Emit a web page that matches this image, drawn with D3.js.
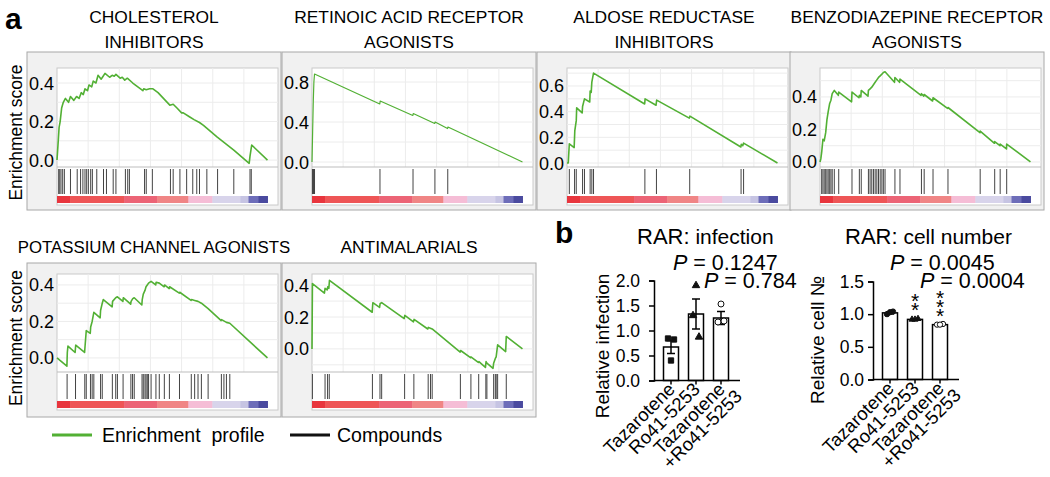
<!DOCTYPE html>
<html>
<head>
<meta charset="utf-8">
<script src="https://cdn.jsdelivr.net/npm/d3@7"></script>
<style>
  body { margin: 0; background: #fff; }
  svg { display: block; font-family: "Liberation Sans", Arial, sans-serif; }
</style>
</head>
<body>
<svg id="fig" width="1050" height="477"></svg>
<script>
// ---- panel a: GSEA running enrichment scores, [rank %, ES]
const gseaTitles = [
  ['CHOLESTEROL', 'INHIBITORS'],
  ['RETINOIC ACID RECEPTOR', 'AGONISTS'],
  ['ALDOSE REDUCTASE', 'INHIBITORS'],
  ['BENZODIAZEPINE RECEPTOR', 'AGONISTS'],
  ['POTASSIUM CHANNEL AGONISTS'],
  ['ANTIMALARIALS']
]
const esTicks = [[0, 0.2, 0.4], [0, 0.4, 0.8], [0, 0.2, 0.4, 0.6], [0, 0.2, 0.4], [0, 0.2, 0.4], [0, 0.2, 0.4]]
const esDomains = [[-0.036, 0.478], [-0.05, 0.94], [-0.031, 0.74], [-0.031, 0.578], [-0.077, 0.46], [-0.145, 0.47]]

const esCholesterol = [[0,0],[0.6,0.1],[1.0,0.17],[1.5,0.2],[2.2,0.27],[3,0.3],[4,0.32],[5.5,0.30],[6.4,0.33],[8,0.31],[9.3,0.33],[10.5,0.32],[11.5,0.35],[12.5,0.34],[13.3,0.37],[14.5,0.36],[15.2,0.39],[16.5,0.38],[17.2,0.41],[18.5,0.40],[19.5,0.44],[21,0.42],[21.6,0.43],[22.8,0.45],[25,0.43],[26.2,0.44],[27.2,0.435],[28,0.445],[30,0.425],[31,0.43],[32.2,0.415],[33.4,0.425],[36,0.40],[40.8,0.36],[41.2,0.37],[42.4,0.365],[44,0.37],[45.6,0.37],[48,0.35],[53.6,0.285],[55.2,0.29],[57,0.27],[59.2,0.245],[60,0.245],[62.9,0.225],[65.1,0.21],[67.7,0.195],[69.6,0.18],[76,0.12],[84,0.052],[91.3,-0.017],[91.7,0.02],[92.5,0.078],[100,0]]
const hitsCholesterol = [0.8,1.3,1.9,2.7,3.5,6.4,9.6,11.2,12.3,13.3,14.1,14.9,16,16.8,18.9,22.1,23.5,26.7,28,32.5,33.6,34.4,41.6,42.4,45.3,53.9,55.2,58.4,61.6,64.5,66.4,67.7,71.2,76.3,84,91.7,92.3]

const esRetinoic = [[0,0],[0.3,0.3],[0.6,0.6],[0.9,0.8],[1.2,0.88],[32.2,0.58],[32.4,0.61],[47.9,0.465],[48.1,0.485],[58.3,0.385],[58.5,0.4],[64.4,0.335],[64.6,0.35],[100,0]]
const hitsRetinoic = [0.2,0.4,0.6,0.8,1.0,1.2,32.3,48,58.4,64.5]

const esAldose = [[0,0],[0.6,0],[1.1,0.15],[3.4,0.12],[3.7,0.25],[4.4,0.33],[4.6,0.43],[7.2,0.39],[7.4,0.44],[8.3,0.5],[10.8,0.475],[11,0.56],[11.5,0.55],[11.8,0.63],[12.6,0.70],[36.9,0.46],[37.1,0.5],[42.3,0.45],[42.6,0.49],[58.1,0.35],[58.4,0.365],[82.6,0.125],[82.8,0.145],[83.5,0.135],[83.9,0.155],[100,0]]
const hitsAldose = [1.1,3.6,4.4,7.4,8.3,11,11.8,12.6,37,42.5,58.3,82.7,83.9]

const esBenzo = [[0,0],[0.4,0.02],[0.8,0.06],[1.4,0.14],[2,0.13],[2.7,0.18],[3.3,0.26],[3.9,0.31],[4.6,0.36],[5.2,0.38],[5.8,0.42],[6.8,0.44],[8.7,0.41],[8.9,0.43],[15,0.37],[15.2,0.43],[18.5,0.395],[18.7,0.41],[19.4,0.40],[19.6,0.44],[22.8,0.405],[23,0.44],[23.8,0.45],[24.6,0.46],[25.4,0.475],[26.2,0.49],[27,0.505],[27.8,0.52],[28.6,0.53],[29.4,0.54],[30.1,0.55],[30.9,0.555],[35.4,0.49],[35.6,0.52],[37.8,0.49],[38,0.51],[48,0.41],[48.2,0.42],[49.3,0.405],[49.5,0.415],[53.5,0.375],[53.7,0.395],[60.6,0.33],[60.8,0.335],[76,0.18],[76.1,0.19],[82.9,0.115],[83,0.125],[85.5,0.1],[85.6,0.11],[88.6,0.08],[88.7,0.11],[100,0]]
const hitsBenzo = [0.8,1.4,2,2.7,3.3,3.9,4.6,5.2,5.8,6.8,8.9,15.2,18.7,19.6,23,23.8,24.6,25.4,26.2,27,27.8,28.6,29.4,30.1,30.9,35.6,38,48.2,49.5,53.7,60.8,76.1,83,85.6,88.7]

const esPotassium = [[0,0],[4.7,-0.045],[4.9,0.03],[5.2,0.065],[8.6,0.03],[8.9,0.07],[13.1,0.03],[13.3,0.06],[13.9,0.15],[15.8,0.135],[16,0.17],[16.7,0.2],[17.5,0.25],[20.5,0.22],[20.7,0.26],[21.5,0.3],[22,0.32],[26.2,0.28],[26.4,0.31],[27.9,0.33],[28.7,0.335],[31.3,0.31],[31.5,0.33],[35,0.295],[35.2,0.31],[36,0.325],[36.7,0.33],[40.3,0.29],[40.5,0.32],[41,0.35],[41.8,0.37],[42.3,0.39],[42.9,0.40],[43.5,0.41],[44.7,0.42],[46.9,0.40],[47.1,0.415],[48.6,0.41],[50.9,0.39],[51.1,0.40],[53.3,0.38],[53.5,0.39],[58.1,0.355],[58.3,0.36],[63.7,0.315],[63.9,0.32],[65.4,0.315],[67,0.31],[68.6,0.30],[71.8,0.27],[78,0.205],[78.2,0.21],[80.5,0.195],[82.1,0.19],[100,0]]
const hitsPotassium = [4.8,8.8,13.2,13.9,15.9,16.7,17.5,20.7,21.5,26.3,27.9,28.7,31.4,35.1,35.9,36.7,40.4,41,41.8,42.3,42.9,43.5,44.7,47,48.6,51,53.4,58.2,63.8,65.4,67,68.6,71.8,78.1,79.3,80.5,82.1]

const esAntimalarial = [[0,0],[0.2,0.41],[5.9,0.35],[6.2,0.38],[7.2,0.37],[7.5,0.39],[8,0.38],[8.3,0.43],[28.6,0.23],[28.9,0.29],[32.1,0.26],[32.4,0.285],[33.1,0.29],[43.8,0.19],[44.1,0.21],[48.2,0.17],[48.5,0.185],[55,0.125],[55.3,0.135],[56.2,0.13],[57.1,0.125],[70.4,-0.02],[70.6,-0.01],[75.3,-0.055],[75.5,-0.05],[79,-0.085],[79.3,-0.08],[82.4,-0.116],[82.7,-0.08],[83.1,-0.09],[86,-0.122],[86.3,-0.09],[87.1,-0.06],[87.5,-0.05],[88.2,0.025],[92,-0.017],[92.3,0.078],[100,0]]
const hitsAntimalarial = [0.2,6.2,7.4,8.2,28.7,32.3,33.1,44,48.4,55.2,56.3,57.1,70.5,75.5,79.2,82.6,83.1,86.3,87.1,87.5,88.2,92.3]

// ranked-list colour strip (same list for every panel)
const rankStops = [0, 6.2, 31.9, 47.6, 62.4, 73.8, 87.1, 91, 95.7, 100]
const rankColors = ['#e8353d', '#ee5556', '#ec6476', '#f08585', '#f5bdd6', '#d8d4eb', '#c6c4e3', '#6d6db9', '#4a4a9f']

// ---- panel b: RAR bar charts
const barGroups = ['Tazarotene', 'Ro41-5253', 'Tazarotene|+Ro41-5253']
const infectionMean = [0.67, 1.33, 1.25]
const infectionSem = [0.13, 0.30, 0.13]
const infectionPoints = [[0.84, 0.82, 0.40], [1.30, 0.87, 1.90], [1.17, 1.19, 1.53]]
const infectionP = ['0.1247', '0.784']
const cellMean = [1.02, 0.92, 0.84]
const cellSem = [0.015, 0.005, 0.005]
const cellPoints = [[1.00, 1.04, 1.03], [0.92, 0.93, 0.92], [0.84, 0.85, 0.84]]
const cellP = ['0.0045', '0.0004']
const cellStars = [0, 2, 3]

const green = '#52b034'
const svg = d3.select('#fig')

// ---------- GSEA panels ----------
const esCurves = [esCholesterol, esRetinoic, esAldose, esBenzo, esPotassium, esAntimalarial]
const hitLists = [hitsCholesterol, hitsRetinoic, hitsAldose, hitsBenzo, hitsPotassium, hitsAntimalarial]
const boxW = 254
const boxXs = [27, 282, 537, 790]
const rows = [
  { y: 52, h: 158, plotTop: 16, esH: 99, title: 23 },
  { y: 263, h: 154, plotTop: 11, esH: 98, title: 253 }
]

function drawGsea(i) {
  const row = rows[i < 4 ? 0 : 1]
  const bx = boxXs[i < 4 ? i : i - 4]
  const by = row.y
  const g = svg.append('g')

  gseaTitles[i].forEach((t, k) => {
    g.append('text')
      .attr('x', bx + boxW / 2)
      .attr('y', row.title + k * 25)
      .attr('text-anchor', 'middle')
      .attr('font-size', i === 4 ? 16.8 : 17.4)
      .text(t)
  })

  g.append('rect')
    .attr('x', bx).attr('y', by)
    .attr('width', boxW).attr('height', row.h)
    .attr('fill', '#f1f1f1').attr('stroke', '#a8a8a8')

  const left = bx + 30
  const right = bx + 251
  const top = by + row.plotTop
  const esBottom = top + row.esH
  const stripTop = esBottom + 29
  const plotBottom = esBottom + 38

  const x = d3.scaleLinear().domain([0, 105]).range([left, right])
  const y = d3.scaleLinear().domain(esDomains[i]).range([esBottom, top])

  g.append('rect')
    .attr('x', left).attr('y', top)
    .attr('width', right - left).attr('height', plotBottom - top)
    .attr('fill', '#fff').attr('stroke', '#cacaca')

  // grid
  const step = esTicks[i][1] / 2
  const hLines = d3.range(Math.ceil(esDomains[i][0] / step) * step, esDomains[i][1], step)
  g.append('g').selectAll('line').data(hLines).enter().append('line')
    .attr('x1', left).attr('x2', right)
    .attr('y1', d => y(d)).attr('y2', d => y(d))
    .attr('stroke', '#ececec')
  g.append('g').selectAll('line').data(d3.range(14.8, 100, 14.8)).enter().append('line')
    .attr('x1', d => x(d)).attr('x2', d => x(d))
    .attr('y1', top).attr('y2', esBottom)
    .attr('stroke', '#ececec')

  g.append('line')
    .attr('x1', left).attr('x2', right)
    .attr('y1', esBottom).attr('y2', esBottom)
    .attr('stroke', '#bdbdbd')

  // compound hits
  g.append('g').selectAll('line').data(hitLists[i]).enter().append('line')
    .attr('x1', d => x(d)).attr('x2', d => x(d))
    .attr('y1', esBottom + 2).attr('y2', stripTop - 2)
    .attr('stroke', '#444').attr('stroke-width', 1)

  // rank colour strip
  const segs = d3.pairs(rankStops).map((p, k) => ({ a: p[0], b: p[1], c: rankColors[k] }))
  g.append('g').selectAll('rect').data(segs).enter().append('rect')
    .attr('x', d => x(d.a)).attr('width', d => x(d.b) - x(d.a) + 0.5)
    .attr('y', stripTop).attr('height', 7)
    .attr('fill', d => d.c)

  // running enrichment score
  const line = d3.line().x(d => x(d[0])).y(d => y(d[1]))
  g.append('path')
    .datum(esCurves[i])
    .attr('d', line)
    .attr('fill', 'none')
    .attr('stroke', green)
    .attr('stroke-width', i === 1 ? 1.2 : 1.6)
    .attr('stroke-linejoin', 'round')

  g.append('g').selectAll('text').data(esTicks[i]).enter().append('text')
    .attr('x', left - 3)
    .attr('y', d => y(d) + 6.5)
    .attr('text-anchor', 'end')
    .attr('font-size', 18)
    .text(d => d.toFixed(1))

  if (bx === boxXs[0]) {
    const cy = (top + plotBottom) / 2 - 4
    g.append('text')
      .attr('transform', `translate(22, ${cy}) rotate(-90)`)
      .attr('text-anchor', 'middle')
      .attr('font-size', 17.5)
      .text('Enrichment score')
  }
}

d3.range(6).forEach(drawGsea)

svg.append('text').attr('x', 5).attr('y', 29)
  .attr('font-size', 30).attr('font-weight', 'bold').text('a')

// legend
const legend = svg.append('g')
legend.append('line').attr('x1', 52).attr('x2', 92).attr('y1', 435).attr('y2', 435)
  .attr('stroke', green).attr('stroke-width', 3)
legend.append('text').attr('x', 102).attr('y', 442).attr('font-size', 19.5)
  .style('white-space', 'pre').text('Enrichment  profile')
legend.append('line').attr('x1', 290).attr('x2', 330).attr('y1', 435).attr('y2', 435)
  .attr('stroke', '#111').attr('stroke-width', 3)
legend.append('text').attr('x', 337).attr('y', 442).attr('font-size', 19.5).text('Compounds')

// ---------- bar charts ----------
svg.append('text').attr('x', 555).attr('y', 243)
  .attr('font-size', 30).attr('font-weight', 'bold').text('b')

const symbolTypes = {
  square: d3.symbolSquare,
  triangle: d3.symbolTriangle,
  circle: d3.symbolCircle
}

function drawBars(cfg) {
  const g = svg.append('g')
  const y = d3.scaleLinear().domain([0, cfg.max]).range([cfg.y0, cfg.yTop])
  const x = d3.scalePoint().domain(barGroups).range([cfg.ax + 17, cfg.ax + 67])
  const bw = 15

  const title = g.append('text').attr('x', cfg.titleX).attr('y', 244).attr('font-size', 22)
  title.append('tspan').text('RAR:')
  title.append('tspan').attr('font-size', 21).text(' ' + cfg.title)

  const rows = barGroups.map((k, j) => ({ k, m: cfg.mean[j], s: cfg.sem[j], pts: cfg.points[j], j }))

  g.append('g').selectAll('rect').data(rows).enter().append('rect')
    .attr('x', d => x(d.k) - bw / 2).attr('width', bw)
    .attr('y', d => y(d.m)).attr('height', d => cfg.y0 - y(d.m))
    .attr('fill', '#fff').attr('stroke', '#000').attr('stroke-width', 1.5)

  const err = g.append('g').attr('stroke', '#000').attr('stroke-width', 1.5)
  rows.forEach(d => {
    const cx = x(d.k)
    err.append('line').attr('x1', cx).attr('x2', cx).attr('y1', y(d.m - d.s)).attr('y2', y(d.m + d.s))
    err.append('line').attr('x1', cx - 4).attr('x2', cx + 4).attr('y1', y(d.m + d.s)).attr('y2', y(d.m + d.s))
    err.append('line').attr('x1', cx - 4).attr('x2', cx + 4).attr('y1', y(d.m - d.s)).attr('y2', y(d.m - d.s))
  })

  const jitter = [-3, 3, 0]
  rows.forEach(d => {
    const shape = cfg.shapes[d.j]
    const sym = d3.symbol().type(symbolTypes[shape.type]).size(shape.size)
    g.append('g').selectAll('path').data(d.pts).enter().append('path')
      .attr('d', sym)
      .attr('transform', (v, k) => `translate(${x(d.k) + jitter[k]}, ${y(v)})`)
      .attr('fill', shape.open ? '#fff' : '#111')
      .attr('stroke', '#111').attr('stroke-width', 1)
  })

  const yAxis = d3.axisLeft(y).tickValues(cfg.ticks).tickFormat(d3.format('.1f'))
    .tickSize(5).tickPadding(cfg.pad)
  const ya = g.append('g').attr('transform', `translate(${cfg.ax}, 0)`).call(yAxis)
  ya.select('.domain').attr('stroke-width', 1.5)
  ya.selectAll('line').attr('stroke-width', 1.5)
  ya.selectAll('text').attr('font-size', 17.5).attr('font-family', 'Liberation Sans, Arial, sans-serif')

  g.append('line').attr('x1', cfg.ax).attr('x2', cfg.ax + 86)
    .attr('y1', cfg.y0).attr('y2', cfg.y0)
    .attr('stroke', '#000').attr('stroke-width', 1.5)
  g.append('g').selectAll('line').data(barGroups).enter().append('line')
    .attr('x1', d => x(d)).attr('x2', d => x(d))
    .attr('y1', cfg.y0).attr('y2', cfg.y0 + 4)
    .attr('stroke', '#000').attr('stroke-width', 1.5)

  barGroups.forEach(k => {
    const t = g.append('text')
      .attr('transform', `translate(${x(k) + 5}, ${cfg.y0 + 10}) rotate(-45)`)
      .attr('text-anchor', 'end')
      .attr('font-size', 18.5)
    const parts = k.split('|')
    t.append('tspan').attr('x', 0).text(parts[0])
    if (parts[1]) t.append('tspan').attr('x', 7).attr('dy', 17).text(parts[1])
  })

  g.append('text')
    .attr('transform', `translate(${cfg.labelX}, ${cfg.labelY}) rotate(-90)`)
    .attr('text-anchor', 'middle')
    .attr('font-size', 19)
    .text(cfg.ylabel)

  // both P values in one text block, second line shifted right
  const pt = g.append('text').attr('y', 270).attr('font-size', 21.5)
  cfg.pvals.forEach((v, n) => {
    pt.append('tspan').attr('x', cfg.pX[n]).attr('dy', n ? 18 : 0)
      .attr('font-style', 'italic').text('P')
    pt.append('tspan').text(' = ' + v)
  })

  // significance stars, stacked one above another, 9px apart
  if (cfg.stars) {
    rows.forEach(d => {
      d3.range(cfg.stars[d.j]).forEach(n => {
        g.append('text')
          .attr('x', x(d.k))
          .attr('y', y(d.m) - 14 - n * 9 + 12)
          .attr('text-anchor', 'middle')
          .attr('font-size', 21)
          .text('*')
      })
    })
  }
}

drawBars({
  ax: 654, y0: 380.5, yTop: 280.5, max: 2, ticks: [0, 0.5, 1, 1.5, 2], pad: 9,
  mean: infectionMean, sem: infectionSem, points: infectionPoints,
  shapes: [{ type: 'square', size: 28 }, { type: 'triangle', size: 24 }, { type: 'circle', size: 28, open: true }],
  title: 'infection', titleX: 637,
  ylabel: 'Relative infection', labelX: 609, labelY: 346,
  pvals: infectionP, pX: [673, 704]
})

drawBars({
  ax: 873, y0: 379.5, yTop: 281.5, max: 1.5, ticks: [0, 0.5, 1, 1.5], pad: 4,
  mean: cellMean, sem: cellSem, points: cellPoints,
  shapes: [{ type: 'circle', size: 22 }, { type: 'triangle', size: 16 }, { type: 'circle', size: 22, open: true }],
  title: 'cell number', titleX: 845,
  ylabel: 'Relative cell №', labelX: 824, labelY: 340,
  pvals: cellP, pX: [890, 920],
  stars: cellStars
})
</script>
</body>
</html>
